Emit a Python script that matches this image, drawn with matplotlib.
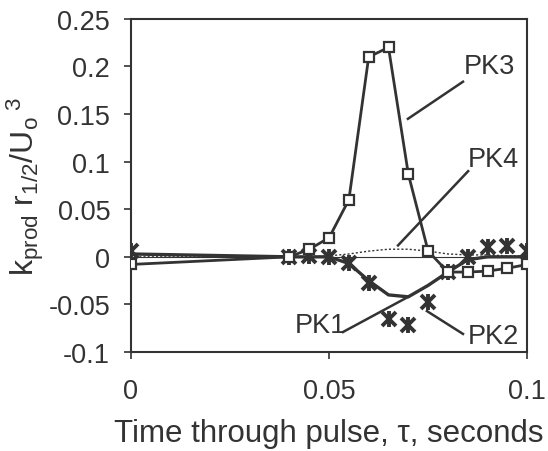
import matplotlib
matplotlib.use("Agg")
import matplotlib.pyplot as plt

plt.rcParams['font.family'] = ['Liberation Sans', 'DejaVu Sans']
plt.rcParams['mathtext.fontset'] = 'custom'
plt.rcParams['mathtext.rm'] = 'Liberation Sans'
plt.rcParams['mathtext.it'] = 'Liberation Sans'

# time through pulse (s)
t = [0, 0.04, 0.045, 0.05, 0.055, 0.06, 0.065, 0.07, 0.075, 0.08, 0.085, 0.09, 0.095, 0.1]

# series values
pk1 = [0.003, 0.0, 0.0, 0.0, -0.007, -0.025, -0.040, -0.042, -0.030, -0.016, -0.003, 0.0, 0.0, 0.0]
pk2 = [0.006, 0.0, 0.001, 0.0, -0.007, -0.028, -0.065, -0.072, -0.047, -0.016, 0.0, 0.010, 0.011, 0.006]
pk3 = [-0.008, 0.0, 0.008, 0.020, 0.060, 0.210, 0.220, 0.087, 0.006, -0.016, -0.016, -0.015, -0.012, -0.008]
pk4 = [0.0, 0.0, 0.0, 0.001, 0.003, 0.006, 0.008, 0.008, 0.006, 0.003, 0.002, 0.002, 0.001, 0.001]

# labels: text position, leader start, leader end
labels = {
    "PK3": ((0.0906, 0.200), (0.0838, 0.184), (0.0699, 0.145)),
    "PK4": ((0.0914, 0.103), (0.0851, 0.090), (0.0674, 0.012)),
    "PK1": ((0.0477, -0.072), (0.0535, -0.079), (0.0700, -0.042)),
    "PK2": ((0.0914, -0.083), (0.0838, -0.081), (0.0747, -0.057)),
}

ink = "#333333"
fs = 19.5

fig = plt.figure(figsize=(5.48, 4.52), dpi=100)
ax = fig.add_axes([0.239, 0.219, 0.723, 0.737])

ax.axhline(0, color=ink, lw=0.8, zorder=1)
ax.plot(t, pk4, color=ink, lw=1.0, ls=(0, (1.5, 1.5)), zorder=2)
ax.plot(t, pk1, color=ink, lw=2.4, zorder=3)
ax.plot(t, pk2, ls='none', marker='x', ms=10, mew=2.8, color=ink, zorder=4)
ax.plot(t, pk2, ls='none', marker='|', ms=11, mew=2.8, color=ink, zorder=4)
ax.plot(t, pk3, color=ink, lw=2.0, marker='s', ms=6.5, mfc='white', mec=ink, mew=1.6, zorder=5)

for name, (txt, p0, p1) in labels.items():
    ax.plot([p0[0], p1[0]], [p0[1], p1[1]], color=ink, lw=1.8, zorder=6)
    ax.text(txt[0], txt[1], name, fontsize=fs, color=ink, ha='center', va='center', zorder=7)

ax.set_xlim(0, 0.1)
ax.set_ylim(-0.1, 0.25)
ax.set_xticks([0, 0.05, 0.1])
ax.set_xticklabels(["0", "0.05", "0.1"])
ax.set_yticks([-0.1, -0.05, 0, 0.05, 0.1, 0.15, 0.2, 0.25])
ax.set_yticklabels(["-0.1", "-0.05", "0", "0.05", "0.1", "0.15", "0.2", "0.25"])
ax.tick_params(direction='out', length=5, width=1.2, colors=ink, labelsize=fs, labelcolor=ink)
ax.tick_params(axis='x', pad=14)
ax.tick_params(axis='y', pad=10)
for s in ax.spines.values():
    s.set_color(ink)
    s.set_linewidth(1.5)

ax.set_xlabel("Time through pulse, \u03c4, seconds", fontsize=22.5, color=ink, labelpad=10)
ax.set_ylabel(r"k$_{\mathrm{prod}}$ r$_{1/2}$/U$_{\mathrm{o}}$$^{\ 3}$", fontsize=23, color=ink, labelpad=2)

fig.savefig("out.png", dpi=100)
